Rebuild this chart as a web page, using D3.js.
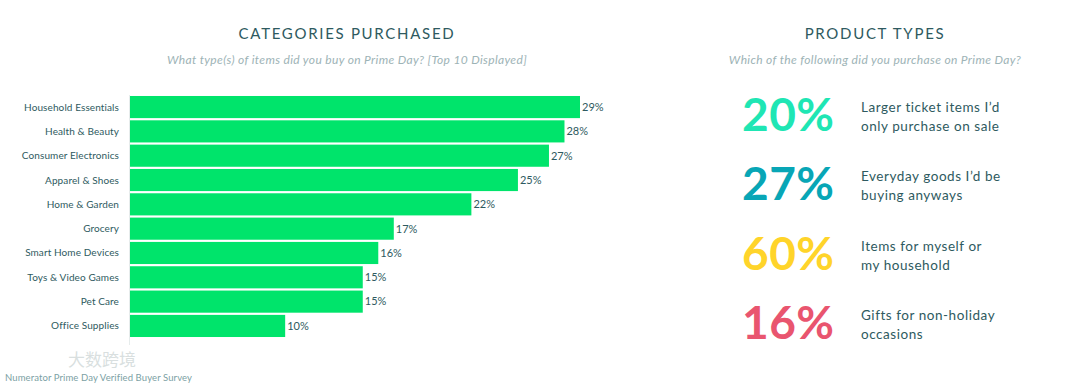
<!DOCTYPE html>
<html>
<head>
<meta charset="utf-8">
<script src="https://cdn.jsdelivr.net/npm/d3@7"></script>
<style>
  body { margin: 0; background: #fff; }
  svg { display: block; font-family: Lato, "Noto Sans", sans-serif; }
</style>
</head>
<body>
<svg id="chart" width="1080" height="385"></svg>
<script>
// categories purchased (top 10)
var categories = ['Household Essentials', 'Health & Beauty', 'Consumer Electronics', 'Apparel & Shoes',
    'Home & Garden', 'Grocery', 'Smart Home Devices', 'Toys & Video Games', 'Pet Care', 'Office Supplies'];
var shares = [29, 28, 27, 25, 22, 17, 16, 15, 15, 10];

// product types
var typeValues = [20, 27, 60, 16];
var typeLines = [
    ['Larger ticket items I\u2019d', 'only purchase on sale'],
    ['Everyday goods I\u2019d be', 'buying anyways'],
    ['Items for myself or', 'my household'],
    ['Gifts for non-holiday', 'occasions']
];
var typeColors = ['#1fe6b4', '#08a6b6', '#ffd42a', '#e9556f'];

var svg = d3.select('#chart');
var textColor = '#2e5a60';
var subColor = '#9db3b6';

// titles
svg.append('text').attr('x', 347).attr('y', 39).attr('text-anchor', 'middle')
    .attr('font-size', 15).attr('letter-spacing', 1.7).attr('fill', textColor)
    .text('CATEGORIES PURCHASED');
svg.append('text').attr('x', 347).attr('y', 64).attr('text-anchor', 'middle')
    .attr('font-size', 12).attr('letter-spacing', 0.35).attr('font-style', 'italic').attr('fill', subColor)
    .text('What type(s) of items did you buy on Prime Day? [Top 10 Displayed]');

svg.append('text').attr('x', 875).attr('y', 39).attr('text-anchor', 'middle')
    .attr('font-size', 15).attr('letter-spacing', 1.7).attr('fill', textColor)
    .text('PRODUCT TYPES');
svg.append('text').attr('x', 875).attr('y', 64).attr('text-anchor', 'middle')
    .attr('font-size', 12).attr('letter-spacing', 0.35).attr('font-style', 'italic').attr('fill', subColor)
    .text('Which of the following did you purchase on Prime Day?');

// bar chart
var x = d3.scaleLinear().domain([0, 29]).range([130, 580]);
var y = d3.scaleBand().domain(categories).range([95.5, 337.5]).paddingInner(0.09).paddingOuter(0.02);

svg.append('line').attr('x1', 129.5).attr('x2', 129.5).attr('y1', 95).attr('y2', 345)
    .attr('stroke', '#e6ecec').attr('stroke-width', 1);

svg.selectAll('.bar')
    .data(categories)
    .enter().append('rect')
    .attr('class', 'bar')
    .attr('x', x(0))
    .attr('y', function(d) { return y(d); })
    .attr('width', function(d, i) { return x(shares[i]) - x(0); })
    .attr('height', y.bandwidth())
    .attr('fill', '#00e46b');

svg.selectAll('.cat')
    .data(categories)
    .enter().append('text')
    .attr('class', 'cat')
    .attr('x', 119)
    .attr('y', function(d) { return y(d) + y.bandwidth() / 2; })
    .attr('dy', '0.35em')
    .attr('text-anchor', 'end')
    .attr('font-size', 10)
    .attr('letter-spacing', 0.1)
    .attr('fill', textColor)
    .text(function(d) { return d; });

svg.selectAll('.val')
    .data(categories)
    .enter().append('text')
    .attr('class', 'val')
    .attr('x', function(d, i) { return x(shares[i]) + 2; })
    .attr('y', function(d) { return y(d) + y.bandwidth() / 2; })
    .attr('dy', '0.35em')
    .attr('font-size', 11)
    .attr('fill', textColor)
    .text(function(d, i) { return shares[i] + '%'; });

// product types
var rowY = d3.scalePoint().domain(d3.range(typeValues.length)).range([115, 323]);

var rows = svg.selectAll('.type')
    .data(typeValues)
    .enter().append('g')
    .attr('class', 'type')
    .attr('transform', function(d, i) { return 'translate(0,' + rowY(i) + ')'; });

rows.append('text')
    .attr('x', 742)
    .attr('y', 16)
    .attr('font-size', 46)
    .attr('font-weight', 'bold')
    .attr('letter-spacing', 0.5)
    .attr('fill', function(d, i) { return typeColors[i]; })
    .text(function(d) { return d + '%'; });

rows.each(function(d, i) {
    var g = d3.select(this);
    typeLines[i].forEach(function(line, j) {
        g.append('text')
            .attr('x', 861)
            .attr('y', -3 + j * 19)
            .attr('font-size', 13.5)
            .attr('letter-spacing', 0.55)
            .attr('fill', textColor)
            .text(line);
    });
});

// footer
svg.append('text').attr('x', 68).attr('y', 366).attr('font-size', 17)
    .attr('fill', '#d9dfdf').attr('font-family', '"Noto Sans CJK SC"')
    .text('大数跨境');
svg.append('text').attr('x', 5).attr('y', 381).attr('font-size', 9.5)
    .attr('letter-spacing', 0.1)
    .attr('fill', '#7c9fa4')
    .text('Numerator Prime Day Verified Buyer Survey');
</script>
</body>
</html>
